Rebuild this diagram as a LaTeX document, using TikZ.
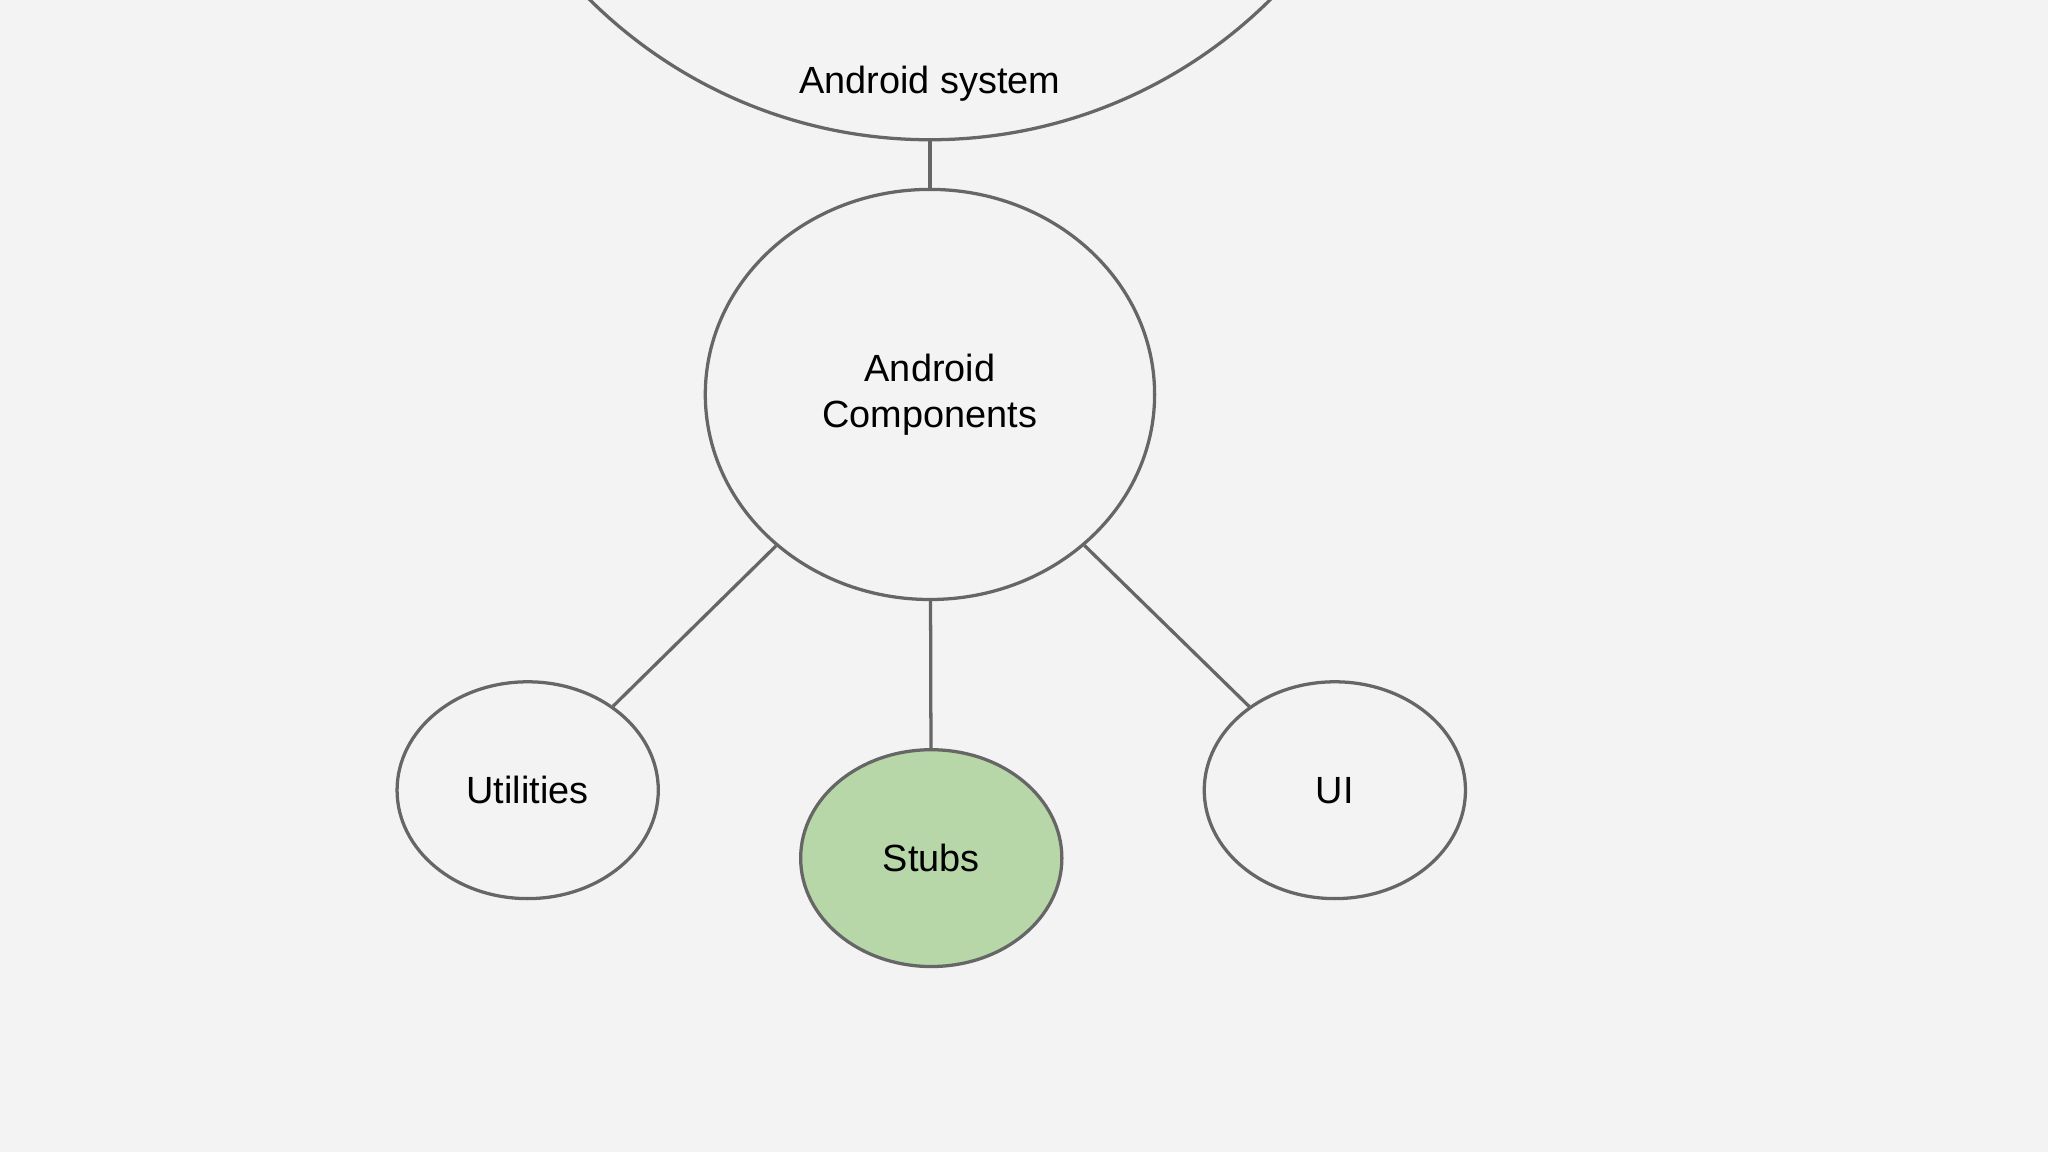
\documentclass[tikz,border=0pt]{standalone}
\usepackage{fontspec}
\setmainfont{Liberation Sans}
\usetikzlibrary{shapes.geometric}
\definecolor{bg}{HTML}{F3F3F3}
\definecolor{edge}{HTML}{666666}
\definecolor{stubg}{HTML}{B7D7A8}
\begin{document}
\begin{tikzpicture}[x=0.5pt,y=-0.5pt,
  bub/.style={ellipse,draw=edge,line width=1.25pt,inner sep=0pt,font=\fontsize{14.5}{17.5}\selectfont,align=center},
  link/.style={draw=edge,line width=1.25pt}]
\useasboundingbox (0,0) rectangle (1568,882);
\fill[bg] (0,0) rectangle (1568,882);
\clip (0,0) rectangle (1568,882);
\node[circle,draw=edge,line width=1.25pt,minimum size=370pt,inner sep=0pt,
  label={[anchor=base,yshift=18.5pt,font=\fontsize{14.5}{17.5}\selectfont]south:Android system}] (sys) at (712,-263) {};
\node[bub,minimum width=172pt,minimum height=157pt] (comp) at (712,302) {Android\\Components};
\node[bub,minimum width=100pt,minimum height=83pt] (util) at (404,605) {Utilities};
\node[bub,minimum width=100pt,minimum height=83pt,fill=stubg] (stubs) at (713,657) {Stubs};
\node[bub,minimum width=100pt,minimum height=83pt] (ui) at (1022,605) {UI};
\draw[link] (sys) -- (comp);
\draw[link] (comp) -- (util);
\draw[link] (comp) -- (stubs);
\draw[link] (comp) -- (ui);
\end{tikzpicture}
\end{document}
